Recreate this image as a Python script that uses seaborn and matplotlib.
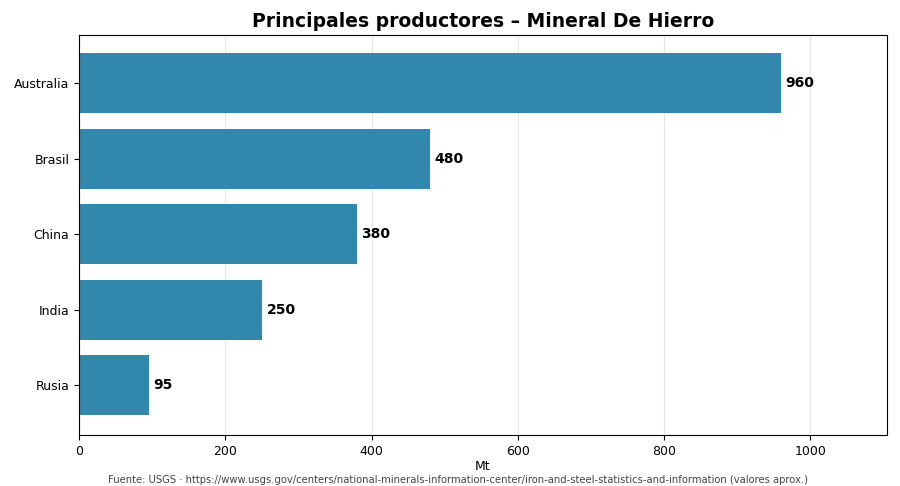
import matplotlib
matplotlib.use("Agg")
import matplotlib.pyplot as plt
import seaborn as sns
import pandas as pd

paises = ["Australia", "Brasil", "China", "India", "Rusia"]
produccion = [960, 480, 380, 250, 95]
titulo = "Principales productores – Mineral De Hierro"
fuente = "Fuente: USGS · https://www.usgs.gov/centers/national-minerals-information-center/iron-and-steel-statistics-and-information (valores aprox.)"

df = pd.DataFrame({"pais": paises, "mt": produccion})

sns.set_style("white")
plt.rcParams['font.family'] = ['DejaVu Sans']
plt.rcParams['text.color'] = 'black'
plt.rcParams['xtick.color'] = 'black'
plt.rcParams['ytick.color'] = 'black'
plt.rcParams['axes.labelcolor'] = 'black'

fig, ax = plt.subplots(figsize=(9, 4.86), dpi=100)
ax.grid(axis="x", color="#e6e6e6", linewidth=0.8)
ax.set_axisbelow(True)
sns.barplot(data=df, x="mt", y="pais", color="#2e86ab", saturation=1, width=0.8,
            alpha=0.98, linewidth=0, ax=ax)

for i, v in enumerate(produccion):
    ax.text(v + 6, i, f"{v}", va="center", ha="left", fontsize=10, fontweight="bold", color="black")

ax.set_xlim(0, max(produccion) * 1.15)
ax.set_ylim(len(paises) - 1 + 0.66, -0.64)
ax.set_title(titulo, fontsize=13.5, fontweight="bold", color="black")
ax.set_xlabel("Mt", fontsize=9, labelpad=1.5)
ax.set_ylabel("")
ax.tick_params(axis="both", labelsize=9, length=3.5, pad=3.5, left=True, bottom=True, colors="black")
for s in ax.spines.values():
    s.set_color("black")
    s.set_linewidth(0.8)

fig.text(0.509, 0.012, fuente, ha="center", va="center", fontsize=7.2, color="#444444")
plt.subplots_adjust(left=0.088, right=0.985, top=0.928, bottom=0.105)
plt.savefig("out.png", dpi=100)
